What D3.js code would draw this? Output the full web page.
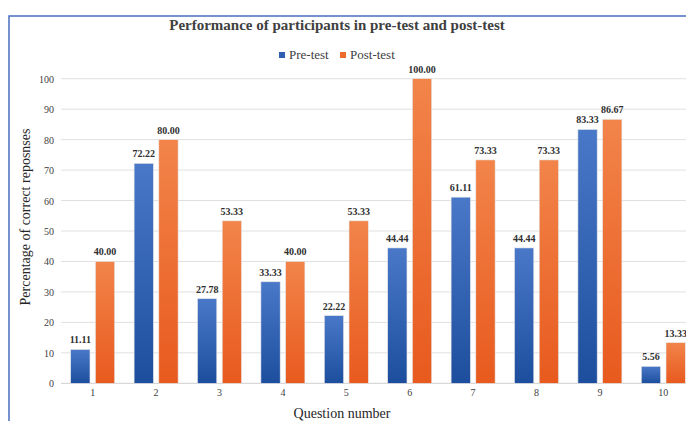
<!DOCTYPE html>
<html><head><meta charset="utf-8">
<script src="https://cdn.jsdelivr.net/npm/d3@7"></script>
<style>body{margin:0;background:#fff}svg{display:block}</style>
</head><body>
<svg id="chart" width="686" height="421"></svg>
<script>
const questions = ["1","2","3","4","5","6","7","8","9","10"];
const series = ["Pre-test","Post-test"];
const preTest = [11.11,72.22,27.78,33.33,22.22,44.44,61.11,44.44,83.33,5.56];
const postTest = [40.00,80.00,53.33,40.00,53.33,100.00,73.33,73.33,86.67,13.33];
const yTicks = [0,10,20,30,40,50,60,70,80,90,100];
const seriesValues = [preTest, postTest];

const svg = d3.select("#chart");
const serif = "'Liberation Serif','Times New Roman',serif";

const defs = svg.append("defs");
const gradBlue = defs.append("linearGradient").attr("id","gBlue").attr("x1",0).attr("y1",0).attr("x2",0).attr("y2",1);
gradBlue.append("stop").attr("offset","0%").attr("stop-color","#4a78c8");
gradBlue.append("stop").attr("offset","100%").attr("stop-color","#1d4e9e");
const gradOrange = defs.append("linearGradient").attr("id","gOrange").attr("x1",0).attr("y1",0).attr("x2",0).attr("y2",1);
gradOrange.append("stop").attr("offset","0%").attr("stop-color","#f2844a");
gradOrange.append("stop").attr("offset","100%").attr("stop-color","#e85a1e");
const fills = ["url(#gBlue)","url(#gOrange)"];
const legendColors = ["#2f5fb0","#ee6a2c"];

// frame
svg.append("rect").attr("x",9).attr("y",16).attr("width",720).attr("height",440)
  .attr("fill","none").attr("stroke","#4a6fbf").attr("stroke-width",1.5);

const x = d3.scaleBand().domain(questions).range([61,695]).paddingInner(0).paddingOuter(0);
const y = d3.scaleLinear().domain([0,100]).range([383.3,78.7]);
const xs = d3.scaleBand().domain(series).range([x.bandwidth()/2-22, x.bandwidth()/2+22]).paddingInner(0.22);

// gridlines
svg.append("g").selectAll("line").data(yTicks).join("line")
  .attr("x1",61).attr("x2",700)
  .attr("y1",d=>y(d)).attr("y2",d=>y(d))
  .attr("stroke",d=>d===0?"#cfcfcf":"#e0e0e0").attr("stroke-width",1);

// y axis labels
const yAxis = d3.axisLeft(y).tickValues(yTicks).tickSize(0).tickPadding(0);
const yg = svg.append("g").attr("transform","translate(54,0)").call(yAxis);
yg.select(".domain").remove();
yg.selectAll("text").attr("font-family",serif).attr("font-size",10).attr("fill","#404040").attr("dy","0.35em");

// x axis labels
const xAxis = d3.axisBottom(x).tickSize(0).tickPadding(0);
const xg = svg.append("g").attr("transform","translate(0,389)").call(xAxis);
xg.select(".domain").remove();
xg.selectAll("text").attr("font-family",serif).attr("font-size",10).attr("fill","#404040").attr("dy","0.7em");

// bars
const groups = svg.append("g").selectAll("g").data(questions).join("g")
  .attr("transform",d=>`translate(${x(d)},0)`);
series.forEach((s,si)=>{
  groups.append("rect")
    .attr("x",xs(s)).attr("width",xs.bandwidth())
    .attr("y",(d,i)=>y(seriesValues[si][i]))
    .attr("height",(d,i)=>y(0)-y(seriesValues[si][i]))
    .attr("fill",fills[si]).attr("stroke","#e6e6e6").attr("stroke-width",0.6);
  groups.append("text")
    .attr("x",xs(s)+xs.bandwidth()/2)
    .attr("y",(d,i)=>y(seriesValues[si][i])-6)
    .attr("text-anchor","middle").attr("font-family",serif).attr("font-size",10)
    .attr("font-weight","bold").attr("fill","#303030")
    .text((d,i)=>seriesValues[si][i].toFixed(2));
});

// title
svg.append("text").attr("x",337).attr("y",30).attr("text-anchor","middle")
  .attr("font-family",serif).attr("font-size",15).attr("font-weight","bold").attr("fill","#404040")
  .text("Performance of participants in pre-test and post-test");

// legend
const lg = svg.append("g");
const legendX = [279, 340];
series.forEach((s,i)=>{
  lg.append("rect").attr("x",legendX[i]).attr("y",52).attr("width",6).attr("height",6).attr("fill",legendColors[i]);
  lg.append("text").attr("x",legendX[i]+10).attr("y",59).attr("font-family",serif).attr("font-size",13)
    .attr("fill","#404040").text(s);
});

// axis titles
svg.append("text").attr("x",342).attr("y",418).attr("text-anchor","middle")
  .attr("font-family",serif).attr("font-size",14).attr("fill","#262626").text("Question number");
svg.append("text").attr("transform","translate(30,217) rotate(-90)").attr("text-anchor","middle")
  .attr("font-family",serif).attr("font-size",14).attr("fill","#262626").text("Percentage of correct reposnses");
</script>
</body></html>
